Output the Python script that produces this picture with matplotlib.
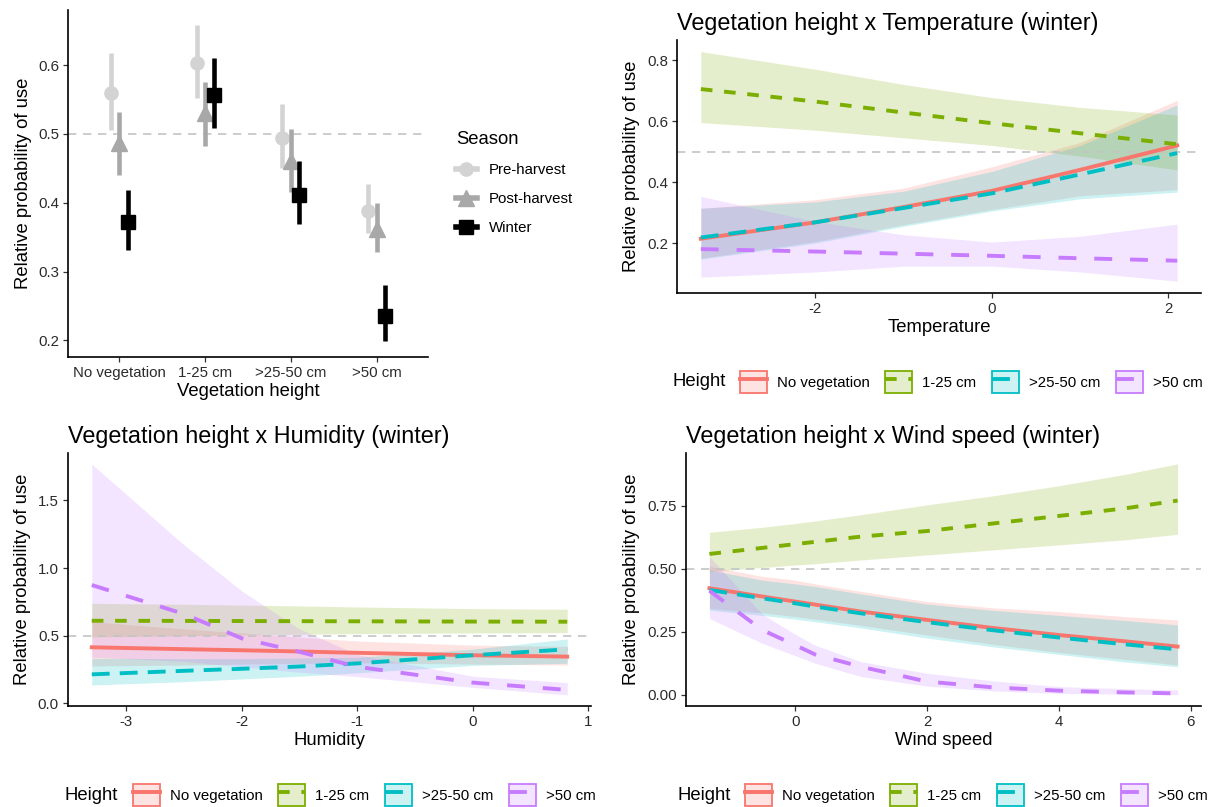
import matplotlib
matplotlib.use("Agg")
import matplotlib.pyplot as plt
from matplotlib.lines import Line2D
from matplotlib.patches import Patch
from matplotlib.colors import to_rgba

plt.rcParams['font.family'] = ['Liberation Sans', 'DejaVu Sans']

# ---- data: top-left (season x vegetation height) ----
heights = ["No vegetation", "1-25 cm", ">25-50 cm", ">50 cm"]
seasons = ["Pre-harvest", "Post-harvest", "Winter"]
pre_est = [0.559, 0.603, 0.494, 0.388]
pre_lo = [0.505, 0.552, 0.450, 0.356]
pre_hi = [0.618, 0.658, 0.543, 0.427]
post_est = [0.487, 0.530, 0.460, 0.362]
post_lo = [0.441, 0.482, 0.415, 0.328]
post_hi = [0.532, 0.576, 0.507, 0.400]
win_est = [0.372, 0.557, 0.412, 0.236]
win_lo = [0.331, 0.508, 0.369, 0.199]
win_hi = [0.419, 0.610, 0.461, 0.281]

# ---- data: temperature (winter) ----
temp_x = [-3.3, -2, -1, 0, 1, 2.1]
temp_nov = [0.214, 0.268, 0.318, 0.371, 0.440, 0.520]
temp_nov_hi = [0.314, 0.342, 0.380, 0.450, 0.530, 0.668]
temp_nov_lo = [0.150, 0.205, 0.260, 0.310, 0.355, 0.375]
temp_h1 = [0.705, 0.664, 0.628, 0.593, 0.560, 0.524]
temp_h1_hi = [0.828, 0.770, 0.720, 0.677, 0.645, 0.620]
temp_h1_lo = [0.595, 0.570, 0.545, 0.520, 0.485, 0.440]
temp_h2 = [0.218, 0.268, 0.315, 0.363, 0.425, 0.495]
temp_h2_hi = [0.314, 0.335, 0.370, 0.435, 0.520, 0.653]
temp_h2_lo = [0.147, 0.200, 0.255, 0.305, 0.345, 0.367]
temp_h3 = [0.180, 0.172, 0.165, 0.158, 0.150, 0.142]
temp_h3_hi = [0.353, 0.270, 0.227, 0.203, 0.222, 0.262]
temp_h3_lo = [0.088, 0.105, 0.124, 0.124, 0.105, 0.075]

# ---- data: humidity (winter) ----
hum_x = [-3.3, -2.5, -2, -1.5, -1, 0, 0.82]
hum_nov = [0.414, 0.400, 0.392, 0.383, 0.373, 0.355, 0.345]
hum_nov_hi = [0.603, 0.550, 0.520, 0.490, 0.460, 0.430, 0.420]
hum_nov_lo = [0.276, 0.283, 0.290, 0.295, 0.300, 0.290, 0.283]
hum_h1 = [0.610, 0.609, 0.608, 0.607, 0.606, 0.604, 0.603]
hum_h1_hi = [0.739, 0.732, 0.726, 0.720, 0.712, 0.700, 0.695]
hum_h1_lo = [0.490, 0.500, 0.505, 0.510, 0.515, 0.520, 0.522]
hum_h2 = [0.214, 0.240, 0.255, 0.272, 0.295, 0.355, 0.399]
hum_h2_hi = [0.333, 0.330, 0.330, 0.335, 0.340, 0.400, 0.475]
hum_h2_lo = [0.135, 0.160, 0.180, 0.200, 0.225, 0.280, 0.296]
hum_h3 = [0.874, 0.660, 0.480, 0.380, 0.270, 0.153, 0.099]
hum_h3_hi = [1.768, 1.170, 0.830, 0.550, 0.360, 0.200, 0.153]
hum_h3_lo = [0.342, 0.310, 0.270, 0.230, 0.197, 0.118, 0.062]

# ---- data: wind speed (winter) ----
wind_x = [-1.3, -0.5, 0, 0.3, 1, 2, 3, 4, 5, 5.8]
wind_nov = [0.423, 0.390, 0.370, 0.358, 0.330, 0.297, 0.265, 0.237, 0.212, 0.191]
wind_nov_hi = [0.510, 0.470, 0.455, 0.440, 0.410, 0.370, 0.345, 0.330, 0.310, 0.297]
wind_nov_lo = [0.343, 0.325, 0.310, 0.300, 0.275, 0.237, 0.200, 0.168, 0.140, 0.118]
wind_h1 = [0.559, 0.583, 0.598, 0.607, 0.628, 0.650, 0.680, 0.710, 0.740, 0.771]
wind_h1_hi = [0.645, 0.665, 0.680, 0.690, 0.715, 0.754, 0.790, 0.830, 0.875, 0.917]
wind_h1_lo = [0.489, 0.505, 0.515, 0.520, 0.535, 0.555, 0.575, 0.595, 0.615, 0.637]
wind_h2 = [0.416, 0.383, 0.363, 0.350, 0.323, 0.288, 0.256, 0.227, 0.200, 0.180]
wind_h2_hi = [0.495, 0.455, 0.440, 0.430, 0.400, 0.360, 0.335, 0.315, 0.295, 0.277]
wind_h2_lo = [0.336, 0.315, 0.300, 0.290, 0.265, 0.225, 0.190, 0.160, 0.130, 0.111]
wind_h3 = [0.413, 0.257, 0.197, 0.160, 0.111, 0.052, 0.029, 0.016, 0.009, 0.005]
wind_h3_hi = [0.548, 0.320, 0.240, 0.197, 0.131, 0.085, 0.055, 0.032, 0.024, 0.019]
wind_h3_lo = [0.303, 0.204, 0.155, 0.125, 0.072, 0.034, 0.015, 0.005, 0.002, 0.000]

hue = ["#F8766D", "#7CAE00", "#00BFC4", "#C77CFF"]
dashes = [None, (3, 3), (4.6, 2.6), (4.6, 4.6)]
W, H = 1213, 807
TICK = 10.8
LAB = 13.3
LEGTXT = 10.8

fig = plt.figure(figsize=(W / 100, H / 100), dpi=100)


def add_ax(l, t, r, b):
    ax = fig.add_axes([l / W, 1 - b / H, (r - l) / W, (b - t) / H])
    ax.spines['top'].set_visible(False)
    ax.spines['right'].set_visible(False)
    for s in ('left', 'bottom'):
        ax.spines[s].set_linewidth(1.2)
        ax.spines[s].set_color('black')
    ax.tick_params(labelsize=TICK, length=3.5, width=0.9, colors='#333333',
                   labelcolor='#2b2b2b', pad=3)
    return ax


def style_line(ln, i):
    if dashes[i] is not None:
        ln.set_dashes(dashes[i])


# ---------- top-left ----------
ax = add_ax(68, 10, 428, 357)
pos = range(1, len(heights) + 1)
groups = [(pre_est, pre_lo, pre_hi, '#d3d3d3', 'o', 9.5),
          (post_est, post_lo, post_hi, '#a8a8a8', '^', 11),
          (win_est, win_lo, win_hi, 'black', 's', 10)]
ax.axhline(0.5, color='#c4c4c4', lw=1.2, ls=(0, (5, 4)), zorder=0)
for k, (est, lo, hi, col, mk, ms) in enumerate(groups):
    off = (k - 1) * 0.1
    for j, p in enumerate(pos):
        ax.plot([p + off, p + off], [lo[j], hi[j]], color=col, lw=3.3,
                solid_capstyle='butt', zorder=2 + k)
        ax.plot(p + off, est[j], marker=mk, color=col, ms=ms, ls='none', zorder=2 + k)
ax.set_xlim(0.4, 4.6)
ax.set_ylim(0.176, 0.68)
ax.set_xticks(list(pos))
ax.set_xticklabels(heights)
ax.set_yticks([0.2, 0.3, 0.4, 0.5, 0.6])
ax.set_yticklabels(["0.2", "0.3", "0.4", "0.5", "0.6"])
ax.set_xlabel("Vegetation height", fontsize=LAB, labelpad=2)
ax.set_ylabel("Relative probability of use", fontsize=LAB, labelpad=4)

season_handles = [Line2D([0], [0], color=g[3], lw=4, marker=g[4], ms=g[5]) for g in groups]
fig.legend(season_handles, seasons, loc='upper left', bbox_to_anchor=(450 / W, 1 - 125 / H),
           frameon=False, fontsize=LEGTXT, title="Season", title_fontsize=LAB,
           handlelength=1.4, handletextpad=0.8, labelspacing=1.0, alignment='left',
           borderaxespad=0)


# ---------- ribbon panels ----------
def ribbon_panel(box, x, series, xlim, ylim, xticks, yticks, yfmt, xlabel, title):
    ax = add_ax(*box)
    for i, (y, lo, hi) in enumerate(series):
        ax.fill_between(x, lo, hi, color=hue[i], alpha=0.2, lw=0, zorder=1)
    ax.axhline(0.5, color='#c4c4c4', lw=1.2, ls=(0, (5, 4)), zorder=2)
    for i, (y, lo, hi) in enumerate(series):
        ln, = ax.plot(x, y, color=hue[i], lw=2.8, zorder=3 + i)
        style_line(ln, i)
    ax.set_xlim(*xlim)
    ax.set_ylim(*ylim)
    ax.set_xticks(xticks)
    ax.set_xticklabels([str(t) for t in xticks])
    ax.set_yticks(yticks)
    ax.set_yticklabels([yfmt.format(t) for t in yticks])
    ax.set_xlabel(xlabel, fontsize=LAB, labelpad=2)
    ax.set_ylabel("Relative probability of use", fontsize=LAB, labelpad=5)
    ax.set_title(title, loc='left', fontsize=16.8, pad=7)
    return ax


def height_legend(xh, xk, y):
    hs = []
    for i in range(4):
        p = Patch(facecolor=to_rgba(hue[i], 0.2), edgecolor=hue[i], lw=1.3)
        ln = Line2D([0], [0], color=hue[i], lw=2.8)
        style_line(ln, i)
        hs.append((p, ln))
    fig.text(xh / W, 1 - y / H, "Height", fontsize=LAB, va='center', ha='left')
    fig.legend(hs, heights, loc='center left', bbox_to_anchor=(xk / W, 1 - y / H),
               ncol=4, frameon=False, fontsize=LEGTXT, handlelength=1.8, handleheight=1.8,
               handletextpad=0.65, columnspacing=1.05, borderaxespad=0, borderpad=0)


ribbon_panel((677, 40, 1201, 293), temp_x,
             [(temp_nov, temp_nov_lo, temp_nov_hi), (temp_h1, temp_h1_lo, temp_h1_hi),
              (temp_h2, temp_h2_lo, temp_h2_hi), (temp_h3, temp_h3_lo, temp_h3_hi)],
             (-3.57, 2.37), (0.036, 0.866), [-2, 0, 2], [0.2, 0.4, 0.6, 0.8], "{:.1f}",
             "Temperature", "Vegetation height x Temperature (winter)")
height_legend(673, 740, 382)

ribbon_panel((68, 453, 591, 706), hum_x,
             [(hum_nov, hum_nov_lo, hum_nov_hi), (hum_h1, hum_h1_lo, hum_h1_hi),
              (hum_h2, hum_h2_lo, hum_h2_hi), (hum_h3, hum_h3_lo, hum_h3_hi)],
             (-3.506, 1.026), (-0.02, 1.85), [-3, -2, -1, 0, 1], [0.0, 0.5, 1.0, 1.5], "{:.1f}",
             "Humidity", "Vegetation height x Humidity (winter)")
height_legend(65, 133, 795)

ribbon_panel((686, 453, 1201, 706), wind_x,
             [(wind_nov, wind_nov_lo, wind_nov_hi), (wind_h1, wind_h1_lo, wind_h1_hi),
              (wind_h2, wind_h2_lo, wind_h2_hi), (wind_h3, wind_h3_lo, wind_h3_hi)],
             (-1.655, 6.155), (-0.045, 0.96), [0, 2, 4, 6], [0.0, 0.25, 0.5, 0.75], "{:.2f}",
             "Wind speed", "Vegetation height x Wind speed (winter)")
height_legend(678, 745, 795)

fig.savefig("out.png", dpi=100)
